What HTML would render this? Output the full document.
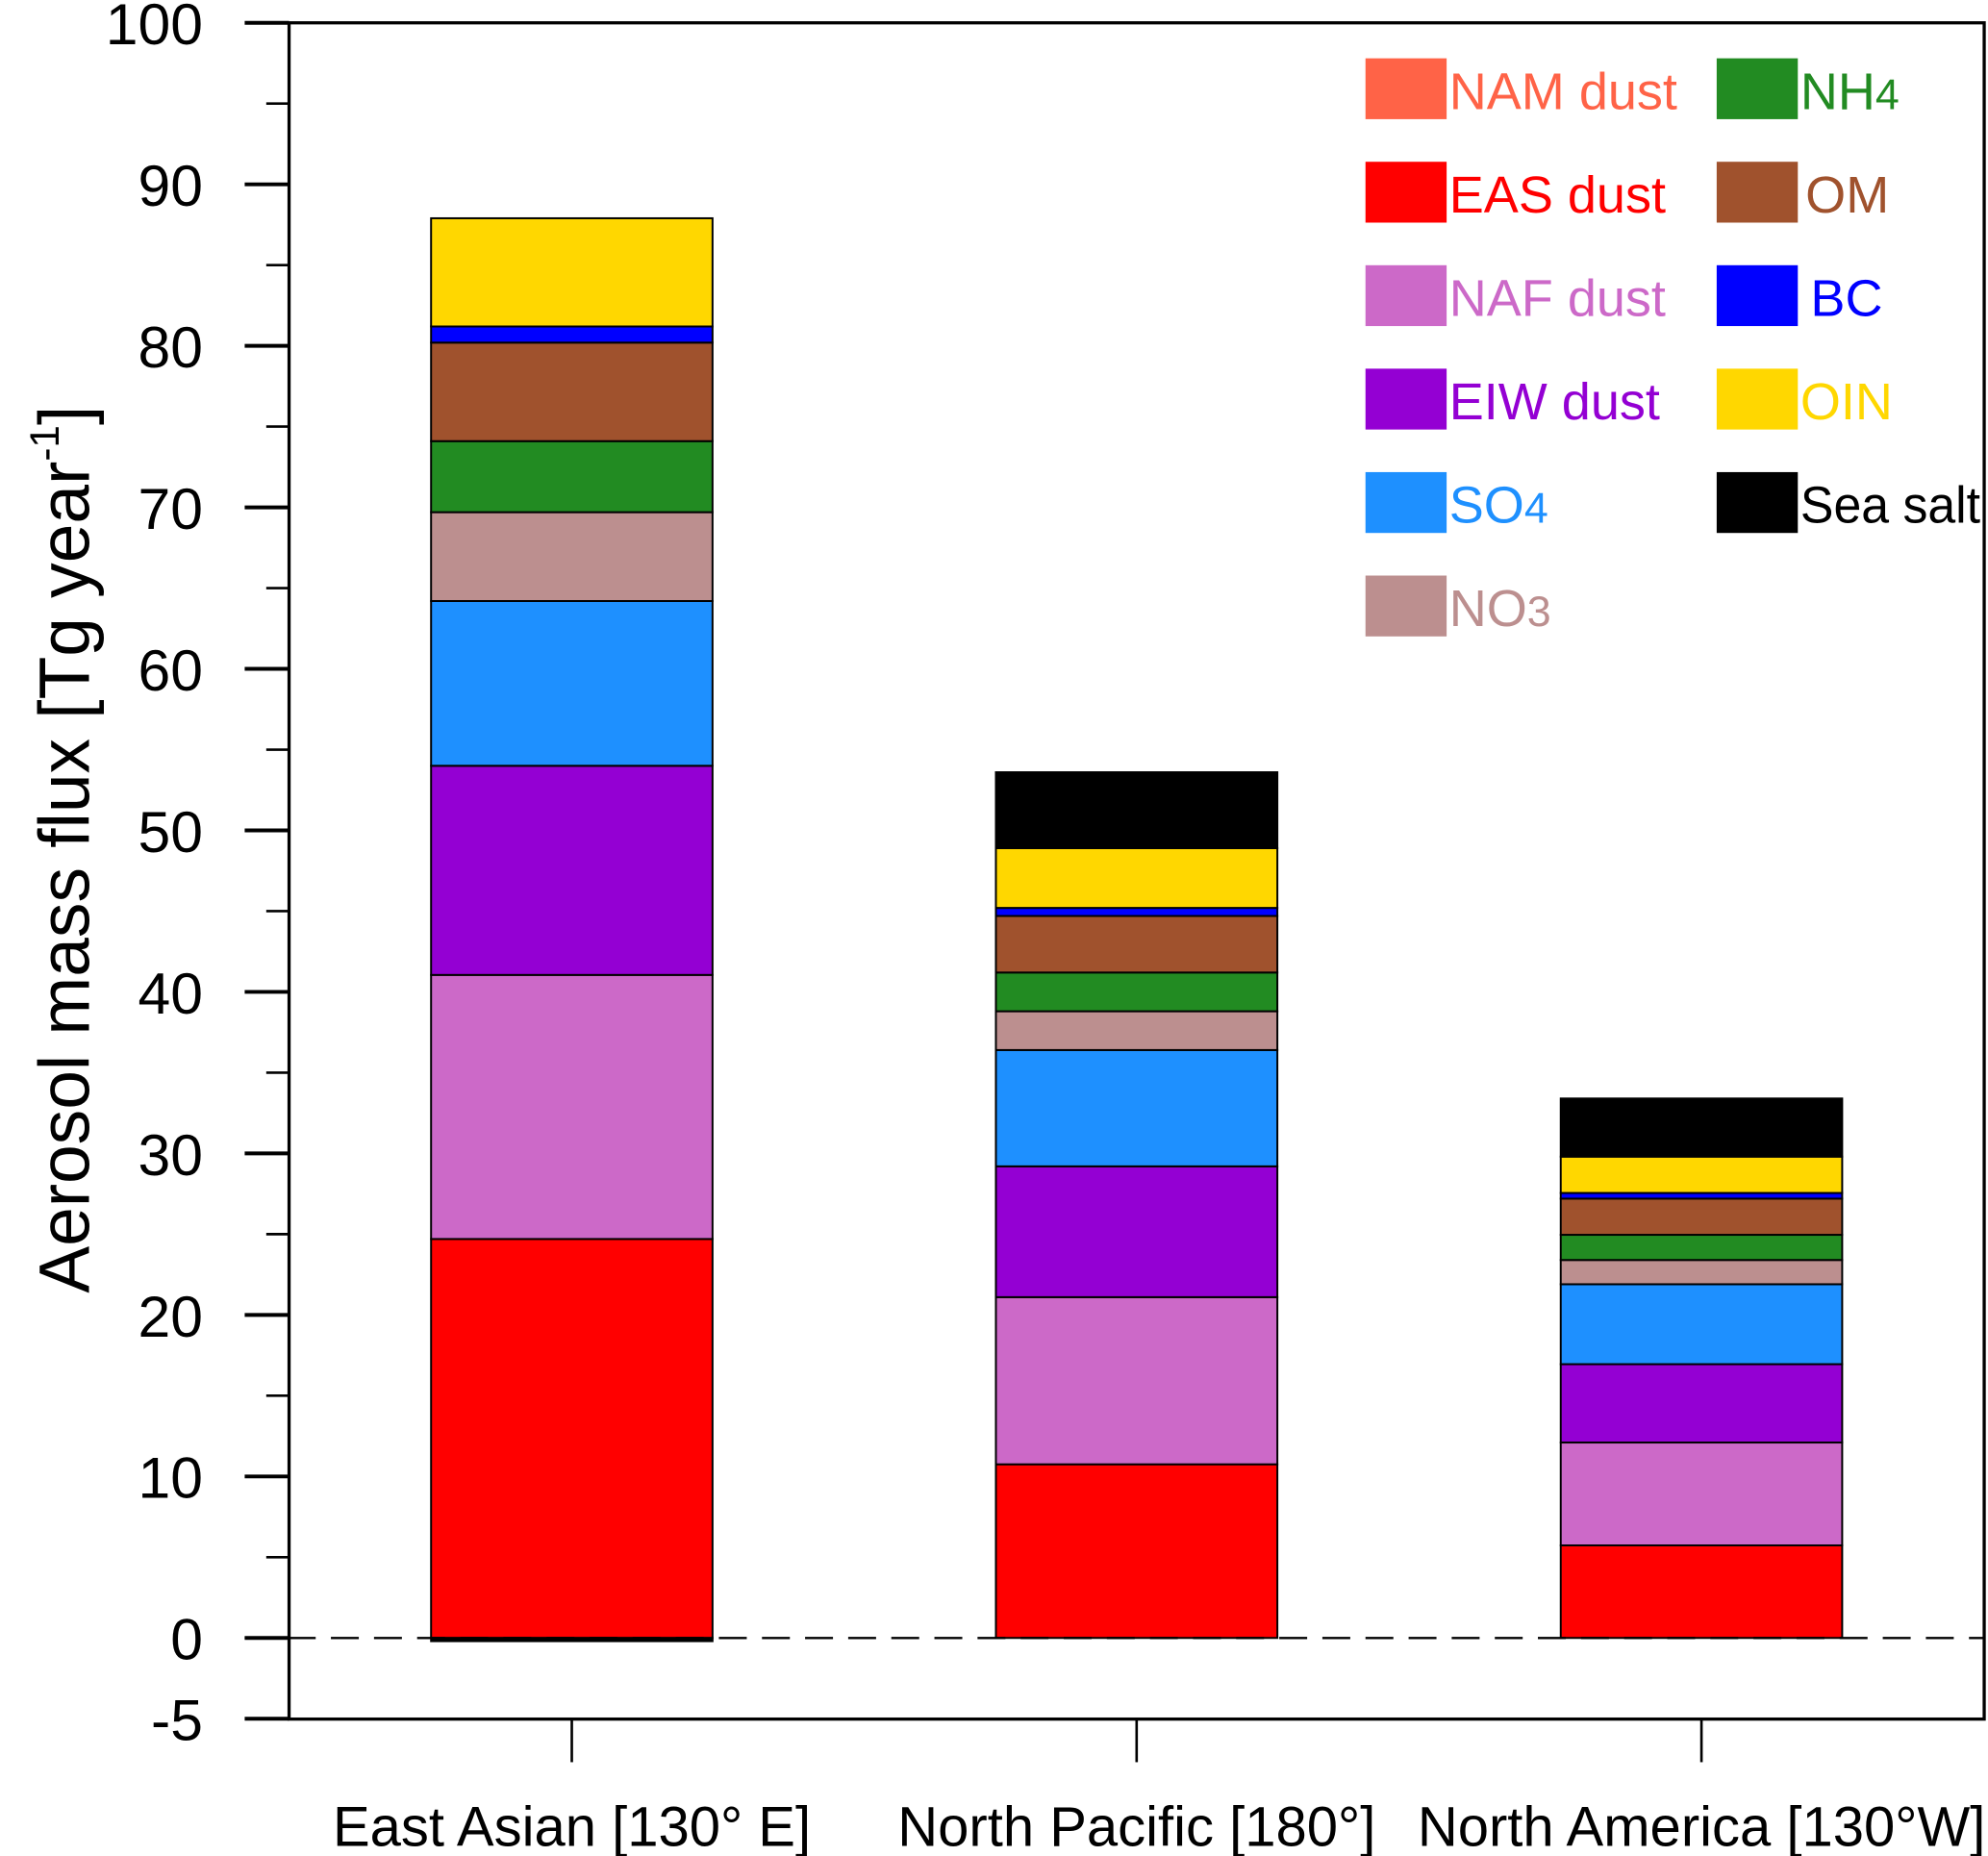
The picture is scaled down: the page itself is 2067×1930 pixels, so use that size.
<!DOCTYPE html>
<html><head><meta charset="utf-8"><style>
html,body{margin:0;padding:0;background:#fff;}
svg{display:block;font-family:"Liberation Sans",Arial,sans-serif;}
</style></head><body>
<svg id="chart" width="2067" height="1930" viewBox="0 0 1568 1464" preserveAspectRatio="none" xmlns="http://www.w3.org/2000/svg">
<g id="axes"></g>
<g id="bars"></g>
<g id="legend"></g>
<text transform="translate(70,670) rotate(-90) scale(1,1.08)" text-anchor="middle" font-size="52" textLength="700" lengthAdjust="spacingAndGlyphs">Aerosol mass flux [Tg year<tspan dy="-22" font-size="30">-1</tspan><tspan dy="22">]</tspan></text>
</svg>
<script>
const categories = ["East Asian [130\u00B0 E]", "North Pacific [180\u00B0]", "North America [130\u00B0W]"];
const species = ["NAM dust","EAS dust","NAF dust","EIW dust","SO4","NO3","NH4","OM","BC","OIN","Sea salt"];
const colors = ["#FF6347","#FF0000","#CC69C8","#9400D3","#1E90FF","#BC8F8F","#228B22","#A0522D","#0000FF","#FFD700","#000000"];
const eastAsian = [0, 24.7, 16.35, 12.95, 10.2, 5.5, 4.4, 6.1, 1.0, 6.7, -0.2];
const northPacific = [0, 10.75, 10.35, 8.1, 7.2, 2.4, 2.4, 3.5, 0.5, 3.7, 4.7];
const northAmerica = [0, 5.73, 6.37, 4.85, 4.95, 1.5, 1.56, 2.24, 0.35, 2.25, 3.6];
const yTicks = [-5, 0, 10, 20, 30, 40, 50, 60, 70, 80, 90, 100];
const yMinor = [5, 15, 25, 35, 45, 55, 65, 75, 85, 95];
const series = [eastAsian, northPacific, northAmerica];

const NS = "http://www.w3.org/2000/svg";
const L = 228, R = 1565, T = 18, B = 1356;
function y(v){ return 1292 - v * 12.74; }
function xc(i){ return 451 + i * 445.5; }
const BW = 222;
function mk(tag, attrs, parent){ const e=document.createElementNS(NS,tag); for(const k in attrs) e.setAttribute(k,attrs[k]); parent.appendChild(e); return e; }

const axes = document.getElementById('axes');
const bars = document.getElementById('bars');
const legend = document.getElementById('legend');

const frame = mk('rect',{x:L,y:T,width:R-L,height:B-T,fill:'none',stroke:'#000','stroke-width':2.5},axes);



yTicks.forEach(v=>{
  const t = mk('line',{x1:193,x2:L,y1:y(v),y2:y(v),stroke:'#000','stroke-width':3},axes);
  
  
  const lb = mk('text',{x:160,y:y(v)+17,'text-anchor':'end','font-size':46,transform:'translate(0,'+(y(v))+') scale(1,1) translate(0,'+(-y(v))+')'},axes);
  
  
  lb.textContent = String(v);
});
yMinor.forEach(v=>{
  const t = mk('line',{x1:210,x2:L,y1:y(v),y2:y(v),stroke:'#000','stroke-width':2},axes);
  
  
});

series.forEach((vals,i)=>{
  let pos = 0, neg = 0;
  const x0 = xc(i) - BW/2;
  vals.forEach((v,j)=>{
    if (v === 0) return;
    let top, bot;
    if (v > 0){ bot = pos; top = pos + v; pos = top; }
    else { top = neg; bot = neg + v; neg = bot; }
    const r = mk('rect',{x:x0,y:y(top),width:BW,height:Math.max(1,y(bot)-y(top)),fill:colors[j],stroke:'#000','stroke-width':1.5},bars);
    
    
  });
  const tk = mk('line',{x1:xc(i),x2:xc(i),y1:B,y2:1390,stroke:'#000','stroke-width':2},axes);
  
  
  const lb = mk('text',{x:xc(i),y:1456,'text-anchor':'middle','font-size':44},axes);
  
  
  lb.textContent = categories[i];
});

const zl = mk('line',{x1:193,x2:R,y1:y(0),y2:y(0),stroke:'#000','stroke-width':1.8,'stroke-dasharray':'22,12'},bars);



const subs = {"SO4":["SO","4"],"NO3":["NO","3"],"NH4":["NH","4"]};
species.forEach((s,j)=>{
  const col = j < 6 ? 0 : 1;
  const row = j < 6 ? j : j - 6;
  const sx = col === 0 ? 1077 : 1354;
  const sy = 46 + row * 81.6;
  const sw = mk('rect',{x:sx,y:sy,width:64,height:48,fill:colors[j]},legend);
  
  
  const tx = mk('text',{x:sx+(s==='BC'?74:s==='OM'?70:66),y:sy+40,'font-size':41,fill:colors[j]},legend);
  
  
  if (s === 'Sea salt'){ tx.setAttribute('textLength','142'); tx.setAttribute('lengthAdjust','spacingAndGlyphs'); }
  if (subs[s]){
    tx.textContent = subs[s][0];
    const ts = mk('tspan',{'font-size':34},tx);
    ts.textContent = subs[s][1];
  } else tx.textContent = s;
});
</script>
</body></html>
